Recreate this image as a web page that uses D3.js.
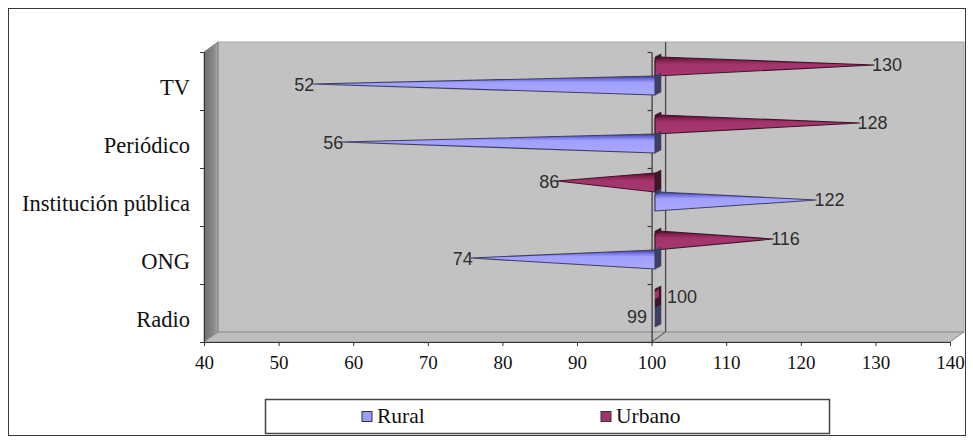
<!DOCTYPE html>
<html>
<head>
<meta charset="utf-8">
<script src="https://cdn.jsdelivr.net/npm/d3@7"></script>
<style>
  html, body { margin: 0; padding: 0; background: #fff; }
  svg { display: block; }
</style>
</head>
<body>
<svg id="chart" width="973" height="443"></svg>
<script>
// Medios de información: Rural vs Urbano (índice, base 100)
const categories = ["TV", "Periódico", "Institución pública", "ONG", "Radio"];
const seriesNames = ["Rural", "Urbano"];
const rural  = [52, 56, 122, 74, 99];
const urbano = [130, 128, 86, 116, 100];
const xTicks = [40, 50, 60, 70, 80, 90, 100, 110, 120, 130, 140];
const baseValue = 100;

const colors = { Rural: "#9c9cff", Urbano: "#a0346a" };

const W = 973, H = 443;
const svg = d3.select("#chart");

// 3-D box geometry: front plane, and depth offset of the back wall
const depth = { dx: 14, dy: -10 };
const x = d3.scaleLinear().domain([40, 140]).range([204, 950]);
const y = d3.scaleBand().domain(categories).range([52, 342]);
// plane through the cone axes (mid depth, slightly foreshortened)
const xc = d3.scaleLinear().domain([40, 140]).range([226, 946]);
const yBoundary = d3.scaleLinear().domain([0, categories.length]).range([52, 342]);

const defs = svg.append("defs");
function grad(id, stops, vertical = true) {
  const g = defs.append("linearGradient").attr("id", id)
    .attr("x1", 0).attr("y1", 0).attr("x2", vertical ? 0 : 1).attr("y2", vertical ? 1 : 0);
  stops.forEach(([o, c]) => g.append("stop").attr("offset", o).attr("stop-color", c));
}
grad("g-left", [[0, "#6e6e6e"], [0.7, "#8a8a8a"], [1, "#a9a9a9"]], false);
grad("g-Rural", [[0, "#3a3a8c"], [0.18, "#7474e0"], [0.35, "#a0a0ff"], [1, "#a8a8ff"]]);
grad("g-Urbano", [[0, "#4a0f2c"], [0.2, "#86244f"], [0.4, "#a3356c"], [1, "#a8376f"]]);

// outer frame
svg.append("rect").attr("x", 8.5).attr("y", 8.5).attr("width", 957).attr("height", 427)
  .attr("fill", "#fff").attr("stroke", "#3a3a3a").attr("stroke-width", 1);

const x0 = x(40), x1 = x(140), yT = 52, yB = 342;

// back wall
svg.append("rect")
  .attr("x", x0 + depth.dx).attr("y", yT + depth.dy)
  .attr("width", x1 - x0).attr("height", yB - yT)
  .attr("fill", "#c2c2c2").attr("stroke", "#a4a4a4").attr("stroke-width", 1);

// left wall
svg.append("polygon")
  .attr("points", [[x0, yT], [x0 + depth.dx, yT + depth.dy], [x0 + depth.dx, yB + depth.dy], [x0, yB]].join(" "))
  .attr("fill", "url(#g-left)").attr("stroke", "#777").attr("stroke-width", 0.8);

// floor
svg.append("polygon")
  .attr("points", [[x0, yB], [x0 + depth.dx, yB + depth.dy], [x1 + depth.dx, yB + depth.dy], [x1, yB]].join(" "))
  .attr("fill", "#bdbdbd").attr("stroke", "#8e8e8e").attr("stroke-width", 1);

// value-100 line on the back wall and across the floor
svg.append("line")
  .attr("x1", x(baseValue) + depth.dx).attr("x2", x(baseValue) + depth.dx)
  .attr("y1", yT + depth.dy).attr("y2", yB + depth.dy)
  .attr("stroke", "#4a4a4a").attr("stroke-width", 1.3);
svg.append("line")
  .attr("x1", x(baseValue)).attr("y1", yB)
  .attr("x2", x(baseValue) + depth.dx).attr("y2", yB + depth.dy)
  .attr("stroke", "#4a4a4a").attr("stroke-width", 1);

// left category axis (ticks at band boundaries)
const leftAxis = svg.append("g").attr("transform", `translate(${x0},0)`)
  .call(d3.axisLeft(yBoundary).ticks(categories.length).tickSize(4).tickSizeOuter(0).tickFormat(""));
leftAxis.selectAll("path, line").attr("stroke", "#333");

// category axis crossing at 100
const midAxis = svg.append("g").attr("transform", `translate(${x(baseValue)},0)`)
  .call(d3.axisLeft(yBoundary).ticks(categories.length).tickSize(4).tickSizeOuter(0).tickFormat(""));
midAxis.selectAll("path, line").attr("stroke", "#333").attr("stroke-width", 1.2);

// value axis
const xAxis = svg.append("g").attr("transform", `translate(0,${yB})`)
  .call(d3.axisBottom(x).tickValues(xTicks).tickSize(4).tickSizeOuter(0).tickPadding(10));
xAxis.selectAll("path, line").attr("stroke", "#333");
xAxis.selectAll("text")
  .attr("font-family", "'Liberation Serif', 'Times New Roman', serif")
  .attr("font-size", 19).attr("fill", "#111");

// category labels
svg.append("g").selectAll("text").data(categories).join("text")
  .attr("x", 190)
  .attr("y", d => y(d) + y.bandwidth() / 2 + 6)
  .attr("text-anchor", "end").attr("dominant-baseline", "central")
  .attr("font-family", "'Liberation Serif', 'Times New Roman', serif")
  .attr("font-size", 22.5).attr("fill", "#111")
  .text(d => d);

// cones
const coneH = 19;
const xb = xc(baseValue) - 3;
const rows = [];
categories.forEach((c, i) => {
  const yc = y(c) + y.bandwidth() / 2 + depth.dy / 2;
  rows.push({ cat: c, series: "Urbano", value: urbano[i], yTop: yc - coneH, yBot: yc });
  rows.push({ cat: c, series: "Rural", value: rural[i], yTop: yc, yBot: yc + coneH });
});

const cones = svg.append("g");
rows.forEach(r => {
  const tip = xc(r.value);
  const yMid = (r.yTop + r.yBot) / 2 - 1.5;
  const dark = d3.color(colors[r.series]).darker(2.6).formatHex();
  const g = cones.append("g");
  const right = r.value >= baseValue;
  // dark side face of the cone base
  g.append("polygon")
    .attr("points", [[xb, r.yTop], [xb + 6, r.yTop - 3], [xb + 6, r.yBot - 3], [xb, r.yBot]].join(" "))
    .attr("fill", dark).attr("stroke", dark).attr("stroke-width", 0.6);
  // cone body, only where it reaches beyond the base face
  if (Math.abs(r.value - baseValue) >= 1.5) {
    const pts = right
      ? [[xb, r.yTop + 3], [xb + 4, r.yTop], [tip, yMid], [xb, r.yBot]]
      : [[xb, r.yTop], [xb, r.yBot], [tip, yMid]];
    g.append("polygon")
      .attr("points", pts.join(" "))
      .attr("fill", `url(#g-${r.series})`)
      .attr("stroke", dark).attr("stroke-width", 1.1).attr("stroke-linejoin", "round");
  } else if (right) {
    g.append("polygon")
      .attr("points", [[xb, r.yTop + 3], [xb + 4, r.yTop], [xb + 4, yMid], [xb, yMid + 2]].join(" "))
      .attr("fill", colors[r.series]);
  }

  // value label
  g.append("text")
    .attr("x", right ? Math.max(tip - 2, xb + 12) : Math.min(tip + 2, xb - 8))
    .attr("y", right ? yMid : yMid + 1)
    .attr("text-anchor", right ? "start" : "end")
    .attr("dominant-baseline", "central")
    .attr("font-family", "'Liberation Sans', Arial, sans-serif")
    .attr("font-size", 18).attr("fill", "#2e2e2e")
    .text(r.value);
});

// legend
const lg = svg.append("g");
lg.append("rect").attr("x", 265.5).attr("y", 399.5).attr("width", 564).attr("height", 34)
  .attr("fill", "#fff").attr("stroke", "#444").attr("stroke-width", 1.5);
const legendPos = { Rural: 362, Urbano: 601 };
seriesNames.forEach(s => {
  const lx = legendPos[s];
  lg.append("rect").attr("x", lx).attr("y", 411.5).attr("width", 10).attr("height", 10)
    .attr("fill", colors[s]).attr("stroke", "#333").attr("stroke-width", 1);
  lg.append("text").attr("x", lx + 15).attr("y", 416)
    .attr("dominant-baseline", "central")
    .attr("font-family", "'Liberation Serif', 'Times New Roman', serif")
    .attr("font-size", 21.5).attr("fill", "#111")
    .text(s);
});
</script>
</body>
</html>
